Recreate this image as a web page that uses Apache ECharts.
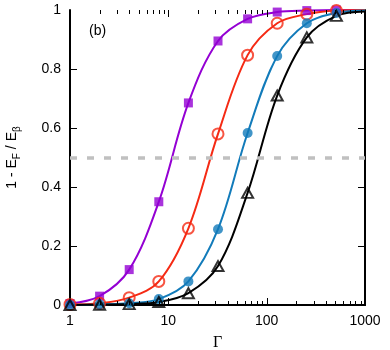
<!DOCTYPE html>
<html>
<head>
<meta charset="utf-8">
<script src="https://cdn.jsdelivr.net/npm/echarts@6/dist/echarts.min.js"></script>
<style>
  html, body { margin: 0; padding: 0; background: #fff; }
  #chart { width: 390px; height: 350px; }
</style>
</head>
<body>
<div id="chart"></div>
<script>
// Gamma values where the markers sit
var gamma = [1, 2, 4, 8, 16, 32, 64, 128, 256, 512];
var purpleVals = [0.005, 0.03, 0.12, 0.35, 0.685, 0.895, 0.97, 0.993, 0.998, 1.0];
var redVals = [0.002, 0.006, 0.025, 0.08, 0.26, 0.58, 0.847, 0.955, 0.986, 0.998];
var blueVals = [0.0, 0.002, 0.006, 0.02, 0.08, 0.257, 0.583, 0.844, 0.955, 0.99];
var blackVals = [0.0, 0.001, 0.003, 0.01, 0.04, 0.132, 0.38, 0.71, 0.907, 0.98];
// the fitted curves run on to Gamma = 1000
var curveEndX = 1000;
var curveEnd = { purple: 1.0, red: 1.0, blue: 0.998, black: 0.995 };
var xTickLabels = ['1', '10', '100', '1000'];
var xMajorTicks = [10, 100];
var xMinorTicks = [2, 3, 4, 5, 6, 7, 8, 9, 20, 30, 40, 50, 60, 70, 80, 90, 200, 300, 400, 500, 600, 700, 800, 900];
var yMajorTicks = [0.2, 0.4, 0.6, 0.8];
var halfLine = 0.5;

function pts(vals) {
    return gamma.map(function (g, i) { return [g, vals[i]]; });
}
function curve(vals, end) {
    var p = pts(vals);
    p.push([curveEndX, end]);
    return p;
}

var font = '"Liberation Sans", Arial, Helvetica, sans-serif';
var colors = { purple: '#9400d3', red: '#f52a14', blue: '#127bba', black: '#000000' };

function lineSeries(vals, key) {
    return {
        type: 'line',
        data: curve(vals, curveEnd[key]),
        smooth: 0.35,
        showSymbol: false,
        symbol: 'none',
        lineStyle: { color: colors[key], width: 2 },
        z: 3
    };
}

var myChart = echarts.init(document.getElementById('chart'));
var option = {
    animation: false,
    title: {
        text: '(b)',
        left: 84,
        top: 19,
        textStyle: { fontFamily: font, fontSize: 14, fontWeight: 'normal', color: '#000' }
    },
    grid: { left: 70, right: 25, top: 10, bottom: 45, outerBoundsMode: 'none', containLabel: false },
    xAxis: [{
        type: 'log',
        logBase: 10,
        min: 1,
        max: 1000,
        name: 'Γ',
        nameLocation: 'middle',
        nameGap: 30,
        nameTextStyle: { fontFamily: '"Liberation Serif", "DejaVu Serif", serif', fontSize: 16, color: '#000' },
        axisLine: { lineStyle: { color: '#000', width: 2 } },
        axisTick: { show: false },
        axisLabel: {
            margin: 9,
            fontFamily: font,
            fontSize: 14,
            color: '#000',
            formatter: function (v) {
                var s = String(Math.round(v));
                return xTickLabels.indexOf(s) >= 0 ? s : '';
            }
        },
        splitLine: { show: false }
    }, {
        type: 'log',
        logBase: 10,
        min: 1,
        max: 1000,
        position: 'top',
        axisLine: { lineStyle: { color: '#000', width: 2 } },
        axisTick: { show: false },
        axisLabel: { show: false },
        splitLine: { show: false }
    }],
    yAxis: [{
        type: 'value',
        min: 0,
        max: 1,
        interval: 0.2,
        name: '{n|1 - E}{s|F}{n| / E}{s|β}',
        nameLocation: 'middle',
        nameRotate: 90,
        nameGap: 48,
        nameTextStyle: {
            rich: {
                n: { fontFamily: font, fontSize: 14, color: '#000' },
                s: { fontFamily: font, fontSize: 10, color: '#000', padding: [9, 0, 0, 0] }
            }
        },
        axisLine: { show: true, lineStyle: { color: '#000', width: 2 } },
        axisTick: { show: false },
        axisLabel: {
            margin: 9,
            fontFamily: font,
            fontSize: 14,
            color: '#000',
            formatter: function (v) { return String(Math.round(v * 10) / 10); }
        },
        splitLine: { show: false }
    }, {
        type: 'value',
        min: 0,
        max: 1,
        interval: 0.2,
        position: 'right',
        axisLine: { show: true, lineStyle: { color: '#000', width: 2 } },
        axisTick: { show: false },
        axisLabel: { show: false },
        splitLine: { show: false }
    }],
    series: [
        {
            type: 'line',
            data: [],
            markLine: {
                silent: true,
                symbol: 'none',
                label: { show: false },
                lineStyle: { color: '#c0c0c0', width: 3.5, type: [7, 10] },
                data: [{ yAxis: halfLine }]
            },
            z: 1
        },
        lineSeries(purpleVals, 'purple'),
        lineSeries(redVals, 'red'),
        lineSeries(blueVals, 'blue'),
        lineSeries(blackVals, 'black'),
        {
            type: 'scatter',
            data: pts(purpleVals),
            symbol: 'rect',
            symbolSize: 9,
            itemStyle: { color: colors.purple },
            z: 4
        },
        {
            type: 'scatter',
            data: pts(redVals),
            symbol: 'circle',
            symbolSize: 11,
            itemStyle: { color: 'rgba(255,255,255,0)', borderColor: colors.red, borderWidth: 2 },
            z: 4
        },
        {
            type: 'scatter',
            data: pts(blueVals),
            symbol: 'circle',
            symbolSize: 10,
            itemStyle: { color: colors.blue },
            z: 4
        },
        {
            type: 'scatter',
            data: pts(blackVals),
            symbol: 'triangle',
            symbolSize: [11, 10],
            itemStyle: { color: 'rgba(255,255,255,0)', borderColor: colors.black, borderWidth: 2 },
            z: 4
        }
    ]
};
myChart.setOption(option);

// frame ticks, placed through the chart's own axes
function toPx(x, y) {
    return myChart.convertToPixel({ xAxisIndex: 0, yAxisIndex: 0 }, [x, y]);
}
function tick(x1, y1, x2, y2) {
    return {
        type: 'line',
        silent: true,
        z: 5,
        shape: { x1: x1, y1: y1, x2: x2, y2: y2 },
        style: { stroke: '#000', lineWidth: 1 }
    };
}
var ticks = [];
function addXTick(v, len) {
    var a = toPx(v, 0), b = toPx(v, 1);
    var x = Math.round(a[0]) + 0.5;
    ticks.push(tick(x, a[1], x, a[1] - len));
    ticks.push(tick(x, b[1], x, b[1] + len));
}
xMajorTicks.forEach(function (v) { addXTick(v, 7); });
xMinorTicks.forEach(function (v) { addXTick(v, 4); });
yMajorTicks.forEach(function (v) {
    var a = toPx(1, v), b = toPx(1000, v);
    var y = Math.round(a[1]) + 0.5;
    ticks.push(tick(a[0], y, a[0] + 7, y));
    ticks.push(tick(b[0], y, b[0] - 7, y));
});
myChart.setOption({ graphic: ticks });
</script>
</body>
</html>
